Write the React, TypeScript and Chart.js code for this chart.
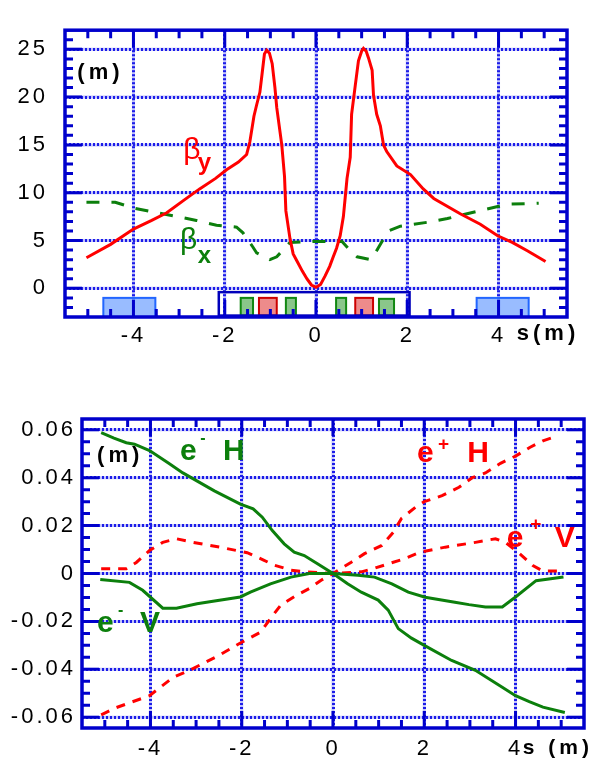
import React, { useEffect, useRef } from "react";
import { Chart, registerables } from "chart.js";
Chart.register(...registerables);

// ---------------- top panel: beta functions ----------------
const S_TICKS = [-4, -2, 0, 2, 4];
const S_TICK_LABELS = ["-4", "-2", "0", "2", "4"];
const BETA_TICKS = [0, 5, 10, 15, 20, 25];
const BETA_TICK_LABELS = ["0", "5", "10", "15", "20", "25"];

const BETA_Y_S = [-5.03, -4.5, -4.0, -3.6, -3.27, -2.9, -2.55, -2.2, -1.96, -1.7, -1.52, -1.45, -1.36, -1.3, -1.23, -1.18, -1.13, -1.08, -1.02, -0.96, -0.9, -0.86, -0.75, -0.69, -0.66, -0.57, -0.5, -0.4, -0.3, -0.2, -0.1, 0, 0.1, 0.2, 0.3, 0.37, 0.45, 0.53, 0.6, 0.64, 0.68, 0.75, 0.78, 0.86, 0.93, 1.0, 1.04, 1.1, 1.15, 1.23, 1.26, 1.33, 1.41, 1.48, 1.55, 1.77, 2.07, 2.35, 2.58, 3.16, 3.6, 3.98, 4.3, 4.64, 5.03];
const BETA_Y = [3.2, 4.6, 6.2, 7.1, 7.9, 9.2, 10.4, 11.5, 12.4, 13.2, 14.0, 15.3, 18.0, 19.2, 20.5, 22.5, 24.5, 24.9, 24.6, 23.5, 21.0, 18.9, 15.0, 11.7, 8.1, 5.2, 3.6, 2.7, 1.8, 1.0, 0.35, 0.1, 0.4, 1.3, 2.3, 3.2, 4.2, 5.5, 7.5, 9.5, 11.5, 13.7, 18.2, 21.2, 23.8, 24.8, 25.1, 24.8, 24.1, 22.8, 20.2, 18.2, 17.0, 15.0, 14.3, 12.8, 11.9, 10.4, 9.4, 7.8, 6.7, 5.5, 4.8, 3.9, 2.8];

const BETA_X_S = [-5.03, -4.4, -4.0, -3.58, -3.14, -2.62, -2.18, -1.74, -1.6, -1.38, -1.3, -1.01, -0.86, -0.57, 0, 0.57, 0.78, 0.9, 1.19, 1.3, 1.52, 1.59, 1.85, 2.43, 2.88, 3.31, 3.75, 4.2, 4.88];
const BETA_X = [9.0, 9.0, 8.4, 8.0, 7.6, 7.1, 6.6, 6.4, 5.8, 4.3, 3.7, 3.0, 3.3, 4.8, 4.9, 4.9, 3.8, 3.3, 3.0, 3.7, 5.5, 6.0, 6.5, 6.9, 7.3, 7.8, 8.3, 8.8, 8.9];

// magnet layout boxes (s range, beta-axis range, kind)
const MAGNET_S0 = [-4.66, -1.65, -1.25, -0.66, 0.44, 0.86, 1.38, 3.52];
const MAGNET_S1 = [-3.52, -1.38, -0.86, -0.44, 0.66, 1.25, 1.71, 4.66];
const MAGNET_TOP = [-1.0, -1.0, -1.0, -1.0, -1.0, -1.0, -1.1, -1.0];
const MAGNET_BOTTOM = [-3.0, -2.85, -2.85, -2.85, -2.85, -2.85, -2.85, -3.0];
const MAGNET_KIND = ["blue", "green", "red", "green", "green", "red", "green", "blue"];
const IR_FRAME_S = [-2.13, 2.05];
const IR_FRAME_B = [-0.4, -2.85];

// ---------------- bottom panel: orbits ----------------
const ORBIT_TICKS = [-0.06, -0.04, -0.02, 0, 0.02, 0.04, 0.06];
const ORBIT_TICK_LABELS = ["-0.06", "-0.04", "-0.02", "0", "0.02", "0.04", "0.06"];

const E_MINUS_H_S = [-5.08, -4.8, -4.53, -4.35, -4.02, -3.6, -3.29, -2.6, -2.03, -1.75, -1.55, -1.33, -1.07, -0.85, -0.63, -0.34, 0, 0.32, 0.62, 0.99, 1.21, 1.43, 1.72, 2.0, 2.6, 3.12, 3.7, 4.0, 4.3, 4.6, 5.08];
const E_MINUS_H = [0.0588, 0.0565, 0.0546, 0.054, 0.0513, 0.046, 0.042, 0.0345, 0.029, 0.027, 0.0235, 0.0179, 0.0124, 0.0089, 0.0075, 0.0041, 0, -0.0043, -0.0078, -0.0111, -0.0153, -0.023, -0.027, -0.03, -0.0363, -0.0404, -0.0474, -0.051, -0.0535, -0.0558, -0.058];

const E_MINUS_V_S = [-5.1, -4.46, -4.17, -3.73, -3.43, -2.98, -2.63, -2.03, -1.81, -1.37, -0.92, -0.52, 0, 0.55, 0.91, 1.29, 1.65, 2.02, 2.67, 2.98, 3.34, 3.71, 4.0, 4.45, 5.05];
const E_MINUS_V = [-0.0025, -0.0037, -0.007, -0.0145, -0.0145, -0.0126, -0.0116, -0.0098, -0.0078, -0.0043, -0.0015, 0, 0, -0.0007, -0.0015, -0.0043, -0.0078, -0.0099, -0.012, -0.013, -0.014, -0.014, -0.0098, -0.003, -0.0015];

const E_PLUS_H_S = [-5.08, -4.75, -4.02, -3.5, -3.14, -2.48, -2.03, -1.59, -1.37, -1.15, -0.81, -0.52, -0.26, 0, 0.4, 0.69, 1.07, 1.32, 1.5, 1.83, 2.0, 2.39, 2.76, 3.05, 3.34, 3.67, 4.0, 4.31, 4.6, 4.93];
const E_PLUS_H = [-0.059, -0.056, -0.051, -0.0433, -0.0404, -0.034, -0.029, -0.0245, -0.0188, -0.0133, -0.0092, -0.0063, -0.0028, 0, 0.0047, 0.0083, 0.0117, 0.0172, 0.023, 0.028, 0.03, 0.0325, 0.036, 0.04, 0.042, 0.046, 0.049, 0.0526, 0.0554, 0.0575];

const E_PLUS_V_S = [-5.08, -4.53, -4.31, -4.02, -3.73, -3.43, -3.07, -2.48, -1.88, -1.51, -1.29, -0.92, -0.63, 0, 0.62, 0.91, 1.24, 1.57, 1.9, 2.46, 3.12, 3.56, 3.78, 4.09, 4.38, 4.6, 5.04];
const E_PLUS_V = [0.002, 0.002, 0.0046, 0.0096, 0.013, 0.0145, 0.013, 0.011, 0.0087, 0.0055, 0.0035, 0.0014, 0.0007, 0, 0.0007, 0.0022, 0.0042, 0.0062, 0.0089, 0.011, 0.013, 0.0145, 0.013, 0.0083, 0.0033, 0.001, 0.001];

// ---------------- styling ----------------
const FRAME = "#0000cc";
const GRID = "#1c1ce8";
const GRID_UNDER = "#c2c4fa";
const RED = "#ff0000";
const GREEN = "#0c7f0c";
const FONT = "Arial, 'Liberation Sans', sans-serif";

type TextItem = {
  t: string; x: number; y: number; color: string; size: number;
  bold?: boolean; base?: CanvasTextBaseline; spacing?: number;
};

const TOP_TEXT: TextItem[] = [
  { t: "(m)", x: -5.23, y: 22.5, color: "#000", size: 22, bold: true, base: "middle", spacing: 4 },
  { t: "β", x: -2.91, y: 13.5, color: RED, size: 30 },
  { t: "y", x: -2.59, y: 12.4, color: RED, size: 24, bold: true },
  { t: "β", x: -2.98, y: 4.1, color: GREEN, size: 30 },
  { t: "x", x: -2.59, y: 2.7, color: GREEN, size: 24, bold: true },
  { t: "s(m)", x: 4.4, y: -4.76, color: "#000", size: 22, bold: true, base: "middle", spacing: 4 },
];

const BOTTOM_TEXT: TextItem[] = [
  { t: "(m)", x: -5.17, y: 0.049, color: "#000", size: 22, bold: true, base: "middle", spacing: 4 },
  { t: "e", x: -3.35, y: 0.0474, color: GREEN, size: 30, bold: true },
  { t: "-", x: -2.91, y: 0.0543, color: GREEN, size: 16, bold: true },
  { t: "H", x: -2.41, y: 0.0474, color: GREEN, size: 30, bold: true },
  { t: "e", x: 1.84, y: 0.0466, color: RED, size: 30, bold: true },
  { t: "+", x: 2.3, y: 0.0537, color: RED, size: 19, bold: true, base: "middle" },
  { t: "H", x: 2.94, y: 0.0466, color: RED, size: 30, bold: true },
  { t: "e", x: 3.81, y: 0.0111, color: RED, size: 30, bold: true },
  { t: "+", x: 4.32, y: 0.0203, color: RED, size: 19, bold: true, base: "middle" },
  { t: "V", x: 4.86, y: 0.0111, color: RED, size: 30, bold: true },
  { t: "e", x: -5.17, y: -0.0244, color: GREEN, size: 30, bold: true },
  { t: "-", x: -4.71, y: -0.0173, color: GREEN, size: 16, bold: true },
  { t: "V", x: -4.23, y: -0.0244, color: GREEN, size: 30, bold: true },
  { t: "s (m)", x: 4.16, y: -0.0729, color: "#000", size: 21, bold: true, base: "middle", spacing: 4 },
];

type PanelOpts = {
  xMin: number; xMax: number; xStep: number; xMajorEvery: number;
  yMin: number; yMax: number; yStep: number; yMajorEvery: number;
  texts: TextItem[];
  boxes?: boolean;
};

function panelPlugin(o: PanelOpts) {
  return {
    id: "panel",
    beforeDraw(chart: any) {
      const ctx = chart.ctx;
      const xs = chart.scales.x;
      const ys = chart.scales.y;
      const a = chart.chartArea;
      // light underlay of the dotted grid lines
      ctx.save();
      ctx.strokeStyle = GRID_UNDER;
      ctx.lineWidth = 3;
      ctx.beginPath();
      for (const t of xs.ticks) {
        const px = xs.getPixelForValue(t.value);
        ctx.moveTo(px, a.top); ctx.lineTo(px, a.bottom);
      }
      for (const t of ys.ticks) {
        const py = ys.getPixelForValue(t.value);
        ctx.moveTo(a.left, py); ctx.lineTo(a.right, py);
      }
      ctx.stroke();
      ctx.restore();
      ctx.letterSpacing = "3px";
    },
    beforeDatasetsDraw(chart: any) {
      const ctx = chart.ctx;
      ctx.letterSpacing = "0px";
      if (!o.boxes) return;
      const xs = chart.scales.x;
      const ys = chart.scales.y;
      ctx.save();
      for (let i = 0; i < MAGNET_S0.length; i++) {
        const x0 = xs.getPixelForValue(MAGNET_S0[i]);
        const x1 = xs.getPixelForValue(MAGNET_S1[i]);
        const y0 = ys.getPixelForValue(MAGNET_TOP[i]);
        const y1 = ys.getPixelForValue(MAGNET_BOTTOM[i]);
        const k = MAGNET_KIND[i];
        ctx.fillStyle = k === "blue" ? "rgba(110,160,255,0.7)" : k === "green" ? "rgba(60,160,60,0.6)" : "rgba(230,90,90,0.7)";
        ctx.strokeStyle = k === "blue" ? "#2266ff" : k === "green" ? "#118811" : "#cc0000";
        ctx.lineWidth = 2;
        ctx.fillRect(x0, y0, x1 - x0, y1 - y0);
        ctx.strokeRect(x0, y0, x1 - x0, y1 - y0);
      }
      const fx0 = xs.getPixelForValue(IR_FRAME_S[0]);
      const fx1 = xs.getPixelForValue(IR_FRAME_S[1]);
      const fy0 = ys.getPixelForValue(IR_FRAME_B[0]);
      const fy1 = ys.getPixelForValue(IR_FRAME_B[1]);
      ctx.strokeStyle = "#0000bb";
      ctx.lineWidth = 2.5;
      ctx.strokeRect(fx0, fy0, fx1 - fx0, fy1 - fy0);
      ctx.restore();
    },
    afterDatasetsDraw(chart: any) {
      const ctx = chart.ctx;
      const xs = chart.scales.x;
      const ys = chart.scales.y;
      const a = chart.chartArea;
      ctx.save();
      ctx.strokeStyle = FRAME;
      ctx.lineWidth = 3;
      ctx.beginPath();
      const nx0 = Math.round(o.xMin / o.xStep), nx1 = Math.round(o.xMax / o.xStep);
      for (let i = nx0; i <= nx1; i++) {
        const v = i * o.xStep;
        if (v <= o.xMin + 1e-9 || v >= o.xMax - 1e-9) continue;
        const px = xs.getPixelForValue(v);
        const len = i % o.xMajorEvery === 0 ? 17 : 8;
        ctx.moveTo(px, a.top); ctx.lineTo(px, a.top + len);
        ctx.moveTo(px, a.bottom); ctx.lineTo(px, a.bottom - len);
      }
      const ny0 = Math.ceil(o.yMin / o.yStep - 1e-9), ny1 = Math.floor(o.yMax / o.yStep + 1e-9);
      for (let i = ny0; i <= ny1; i++) {
        const v = i * o.yStep;
        if (v <= o.yMin + 1e-9 || v >= o.yMax - 1e-9) continue;
        const py = ys.getPixelForValue(v);
        const len = i % o.yMajorEvery === 0 ? 17 : 8;
        ctx.moveTo(a.left, py); ctx.lineTo(a.left + len, py);
        ctx.moveTo(a.right, py); ctx.lineTo(a.right - len, py);
      }
      ctx.stroke();
      ctx.lineWidth = 3.5;
      ctx.strokeRect(a.left, a.top, a.right - a.left, a.bottom - a.top);
      ctx.restore();
    },
    afterDraw(chart: any) {
      const ctx = chart.ctx;
      const xs = chart.scales.x;
      const ys = chart.scales.y;
      ctx.save();
      for (const t of o.texts) {
        ctx.font = `${t.bold ? "bold " : ""}${t.size}px ${FONT}`;
        ctx.letterSpacing = `${t.spacing || 0}px`;
        ctx.fillStyle = t.color;
        ctx.textAlign = "left";
        ctx.textBaseline = t.base || "alphabetic";
        ctx.fillText(t.t, xs.getPixelForValue(t.x), ys.getPixelForValue(t.y));
      }
      ctx.letterSpacing = "0px";
      ctx.restore();
    },
  };
}

function axis(min: number, max: number, ticks: number[], labels: string[], size: number, padding: number, fit: (s: any) => void) {
  return {
    type: "linear",
    min,
    max,
    afterBuildTicks: (s: any) => {
      s.ticks = ticks.map((v) => ({ value: v }));
    },
    afterFit: fit,
    grid: { color: GRID, lineWidth: 3, drawTicks: false },
    border: { display: false, dash: [2, 2] },
    ticks: {
      callback: (v: number) => {
        const i = ticks.findIndex((t) => Math.abs(t - v) < 1e-9);
        return i >= 0 ? labels[i] : "";
      },
      color: "#000",
      font: { family: FONT, size },
      padding,
      maxRotation: 0,
      autoSkip: false,
    },
  };
}

function pts(xs: number[], ys: number[]) {
  return xs.map((x, i) => ({ x, y: ys[i] }));
}

export default function App() {
  const topRef = useRef<HTMLCanvasElement>(null);
  const botRef = useRef<HTMLCanvasElement>(null);

  useEffect(() => {
    const top = new Chart(topRef.current as HTMLCanvasElement, {
      type: "line",
      data: {
        datasets: [
          { data: pts(BETA_Y_S, BETA_Y), borderColor: RED, borderWidth: 3, pointRadius: 0, tension: 0, fill: false },
          { data: pts(BETA_X_S, BETA_X), borderColor: GREEN, borderWidth: 3, borderDash: [13, 12], pointRadius: 0, tension: 0, fill: false },
        ],
      } as any,
      options: {
        animation: false,
        responsive: false,
        maintainAspectRatio: false,
        devicePixelRatio: 1,
        layout: { padding: { left: 0, right: 31, top: 8, bottom: 0 } },
        plugins: { legend: { display: false }, tooltip: { enabled: false } },
        scales: {
          x: axis(-5.5, 5.5, S_TICKS, S_TICK_LABELS, 22, 6, (s: any) => { s.height = 63; }),
          y: axis(-3, 27, BETA_TICKS, BETA_TICK_LABELS, 22, 17, (s: any) => { s.width = 65; }),
        },
      } as any,
      plugins: [panelPlugin({ xMin: -5.5, xMax: 5.5, xStep: 0.5, xMajorEvery: 4, yMin: -3, yMax: 27, yStep: 1, yMajorEvery: 5, texts: TOP_TEXT, boxes: true })],
    });

    const bot = new Chart(botRef.current as HTMLCanvasElement, {
      type: "line",
      data: {
        datasets: [
          { data: pts(E_MINUS_H_S, E_MINUS_H), borderColor: GREEN, borderWidth: 3, pointRadius: 0, tension: 0, fill: false },
          { data: pts(E_MINUS_V_S, E_MINUS_V), borderColor: GREEN, borderWidth: 3, pointRadius: 0, tension: 0, fill: false },
          { data: pts(E_PLUS_H_S, E_PLUS_H), borderColor: RED, borderWidth: 3, borderDash: [9, 8], pointRadius: 0, tension: 0, fill: false },
          { data: pts(E_PLUS_V_S, E_PLUS_V), borderColor: RED, borderWidth: 3, borderDash: [9, 8], pointRadius: 0, tension: 0, fill: false },
        ],
      } as any,
      options: {
        animation: false,
        responsive: false,
        maintainAspectRatio: false,
        devicePixelRatio: 1,
        layout: { padding: { left: 0, right: 14, top: 39, bottom: 0 } },
        plugins: { legend: { display: false }, tooltip: { enabled: false } },
        scales: {
          x: axis(-5.5, 5.5, S_TICKS, S_TICK_LABELS, 22, 8, (s: any) => { s.height = 33; }),
          y: axis(-0.0645, 0.0645, ORBIT_TICKS, ORBIT_TICK_LABELS, 22, 6, (s: any) => { s.width = 82; }),
        },
      } as any,
      plugins: [panelPlugin({ xMin: -5.5, xMax: 5.5, xStep: 0.5, xMajorEvery: 4, yMin: -0.0645, yMax: 0.0645, yStep: 0.005, yMajorEvery: 4, texts: BOTTOM_TEXT })],
    });

    return () => {
      top.destroy();
      bot.destroy();
    };
  }, []);

  return (
    <div style={{ position: "absolute", left: 0, top: 0, width: 598, height: 761, background: "#fff" }}>
      <canvas ref={topRef} width={598} height={380} style={{ position: "absolute", left: 0, top: 0, width: 598, height: 380 }} />
      <canvas ref={botRef} width={598} height={381} style={{ position: "absolute", left: 0, top: 380, width: 598, height: 381 }} />
    </div>
  );
}
